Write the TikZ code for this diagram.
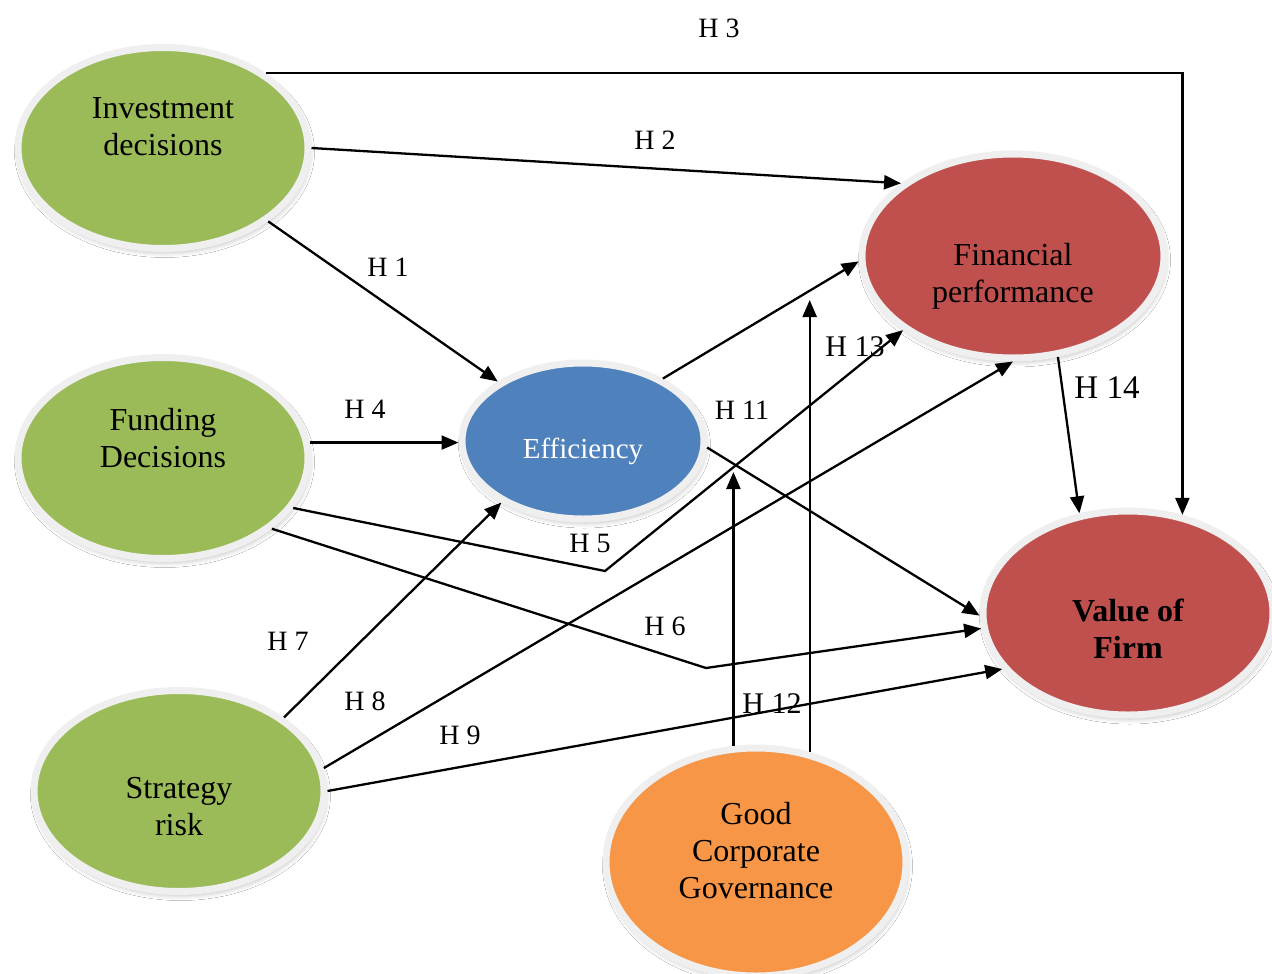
\documentclass[tikz,border=0pt]{standalone}
\usepackage{fontspec}
\setmainfont{Liberation Serif}
\usetikzlibrary{shapes.geometric,arrows.meta,shadows.blur}
\definecolor{igreen}{HTML}{9BBB59}
\definecolor{eblue}{HTML}{4F81BD}
\definecolor{fred}{HTML}{C0504D}
\definecolor{gorange}{HTML}{F79646}
\definecolor{ringgrey}{HTML}{EFEFEF}
\begin{document}
\begin{tikzpicture}[x=1pt,y=-1pt,
  ell/.style={ellipse, draw=ringgrey, line width=7pt, inner sep=0pt, align=center,
    font=\fontsize{32}{37}\selectfont,
    blur shadow={shadow blur steps=6, shadow xshift=1.5pt, shadow yshift=-4pt, shadow opacity=25, shadow blur radius=5pt}},
  conn/.style={line width=2.3pt, -{Triangle[length=17pt,width=14pt]}},
  lab/.style={font=\fontsize{28}{30}\selectfont, inner sep=0pt},
  labbig/.style={font=\fontsize{30}{33}\selectfont, inner sep=0pt}
]
\useasboundingbox (0,0) rectangle (1272,974);
\fill[white] (0,0) rectangle (1272,974);

% ellipses
\node[ell, fill=igreen, minimum width=290pt, minimum height=201pt] (inv) at (163,148)
  {Investment\\decisions\\[6pt]\mbox{}};
\node[ell, fill=igreen, minimum width=290pt, minimum height=201pt] (fund) at (163,458)
  {Funding\\Decisions\\[4pt]\mbox{}};
\node[ell, fill=igreen, minimum width=290pt, minimum height=201pt] (strat) at (179,791)
  {\mbox{}\\[16pt]Strategy\\risk};
\node[ell, fill=eblue, text=white, minimum width=242pt, minimum height=156pt,
  font=\fontsize{29}{35}\selectfont] (eff) at (583,441)
  {\mbox{}\\[7pt]Efficiency};
\node[ell, fill=fred, minimum width=302pt, minimum height=204pt] (fin) at (1013,256)
  {\mbox{}\\[25pt]Financial\\performance};
\node[ell, fill=fred, minimum width=290pt, minimum height=204pt,
  font=\fontsize{32}{37}\selectfont\bfseries] (val) at (1128,613)
  {\mbox{}\\[16pt]Value of\\Firm};
\node[ell, fill=gorange, minimum width=300pt, minimum height=228pt] (gcg) at (756,862)
  {Good\\Corporate\\Governance\\[-14pt]\mbox{}};

% connectors
\coordinate (h5b) at (605,571);
\coordinate (h6b) at (706,668);
\coordinate (m1) at (733,472);
\coordinate (m2) at (808,300);

\draw[conn] (inv.36) -| (val.61);
\draw[conn] (inv.east) -- (fin.147);
\draw[conn] (inv) -- (eff);
\draw[conn] (fund.6) -- (fund.6 -| eff.west);
\draw[conn] (eff.38) -- (fin.182);
\draw[conn] (fund.-21) -- (h5b) -- (fin.214);
\draw[conn] (fund.-33) -- (h6b) -- (val.186);
\draw[conn] (eff.-3) -- (val.181);
\draw[conn] (strat.35) -- (eff.217);
\draw[conn] (strat.9) -- (fin.south);
\draw[conn] (strat.east) -- (val.204.5);
\draw[conn] (gcg.101.2) -- (gcg.101.2 |- m1);
\draw[conn] (gcg.64.8) -- (gcg.64.8 |- m2);
\draw[conn] (fin.-66.5) -- (val.116);

% labels
\node[lab] (l3) at (719,28) {H 3};
\node[lab] (l2) at (655,140) {H 2};
\node[lab] (l1) at (388,267) {H 1};
\node[lab] (l4) at (365,409) {H 4};
\node[labbig] (l13) at (855,347) {H 13};
\node[lab] (l11) at (742,410) {H 11};
\node[font=\fontsize{33}{36}\selectfont, inner sep=0pt] (l14) at (1107,388) {H 14};
\node[lab] (l5) at (590,543) {H 5};
\node[lab] (l6) at (665,626) {H 6};
\node[lab] (l7) at (288,641) {H 7};
\node[lab] (l8) at (365,701) {H 8};
\node[lab] (l9) at (460,735) {H 9};
\node[labbig] (l12) at (772,704) {H 12};
\end{tikzpicture}
\end{document}
